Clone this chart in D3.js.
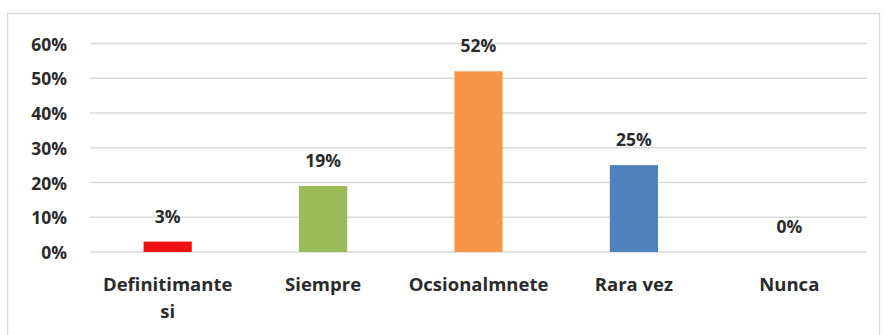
<!DOCTYPE html>
<html>
<head>
<meta charset="utf-8">
<script src="https://cdn.jsdelivr.net/npm/d3@7"></script>
<style>
  html, body { margin: 0; padding: 0; background: #fff; }
  svg text { font-family: "Open Sans", Lato, sans-serif; font-weight: bold; fill: #2b2b2b; }
</style>
</head>
<body>
<svg id="chart" width="885" height="335"></svg>
<script>
// Survey answer categories and their share of responses (%)
const categories = ["Definitimante si", "Siempre", "Ocsionalmnete", "Rara vez", "Nunca"];
const values = [3, 19, 52, 25, 0];
const barColors = ["#ee1111", "#9bbb59", "#f79646", "#4f81bd", "#a5a5a5"];
const yTicks = [0, 10, 20, 30, 40, 50, 60];

const svg = d3.select("#chart");
const W = 885, H = 335;

// outer frame
svg.append("rect")
  .attr("x", 7.5).attr("y", 13.5)
  .attr("width", 872).attr("height", 330)
  .attr("fill", "#fff").attr("stroke", "#d9d9d9").attr("stroke-width", 1.5);

const margin = { left: 90, right: 18 };
const x = d3.scaleBand()
  .domain(categories)
  .range([margin.left, W - margin.right])
  .paddingInner(0.69).paddingOuter(0.345);
const y = d3.scaleLinear().domain([0, 60]).range([252, 43.5]);

// horizontal gridlines
svg.append("g").selectAll("line").data(yTicks).join("line")
  .attr("x1", margin.left).attr("x2", W - margin.right)
  .attr("y1", d => y(d)).attr("y2", d => y(d))
  .attr("stroke", "#d9d9d9").attr("stroke-width", 1.5);

// y axis labels
const yAxis = d3.axisLeft(y).tickValues(yTicks).tickFormat(d => d + "%").tickSize(0).tickPadding(0);
const gy = svg.append("g").attr("transform", "translate(67,1)").call(yAxis);
gy.select(".domain").remove();
gy.selectAll("text").attr("font-size", 17.5).attr("font-family", null).style("fill", "#2b2b2b");

// bars
svg.append("g").selectAll("rect").data(values).join("rect")
  .attr("x", (d, i) => x(categories[i]))
  .attr("width", x.bandwidth())
  .attr("y", d => y(d))
  .attr("height", d => y(0) - y(d))
  .attr("fill", (d, i) => barColors[i]);

// value labels
svg.append("g").selectAll("text").data(values).join("text")
  .attr("x", (d, i) => x(categories[i]) + x.bandwidth() / 2)
  .attr("y", d => y(d) - 19)
  .attr("text-anchor", "middle")
  .attr("font-size", 17.5)
  .text(d => d + "%");

// category labels (wrapped where needed)
const catLines = categories.map(c => c === "Definitimante si" ? ["Definitimante", "si"] : [c]);
const cg = svg.append("g").selectAll("text").data(categories).join("text")
  .attr("x", d => x(d) + x.bandwidth() / 2)
  .attr("y", 291)
  .attr("text-anchor", "middle")
  .attr("font-size", 18.5);
cg.each(function (d, i) {
  d3.select(this).selectAll("tspan").data(catLines[i]).join("tspan")
    .attr("x", x(d) + x.bandwidth() / 2)
    .attr("dy", (t, j) => j === 0 ? 0 : 27)
    .text(t => t);
});
</script>
</body>
</html>
